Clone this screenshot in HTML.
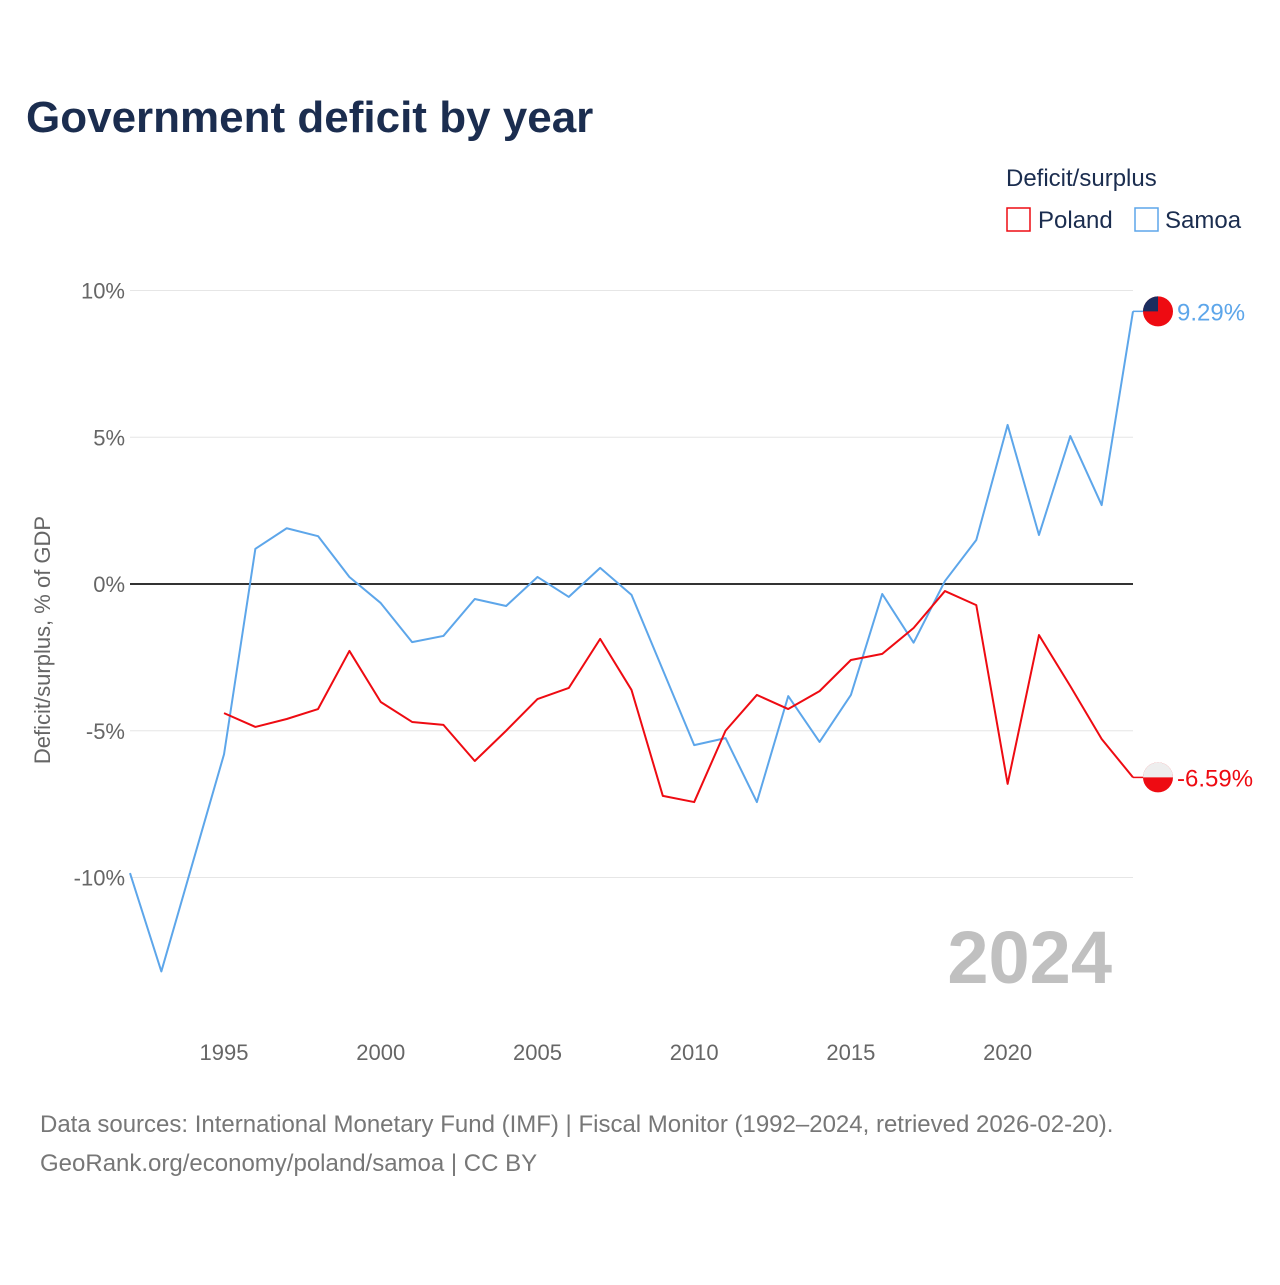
<!DOCTYPE html>
<html><head><meta charset="utf-8"><style>
body{margin:0;background:#fff;font-family:"Liberation Sans",sans-serif;}
svg text{font-family:"Liberation Sans",sans-serif;}
</style></head><body>
<svg id="chart" width="1280" height="1280" viewBox="0 0 1280 1280">
<text x="26" y="132" font-size="44" font-weight="bold" fill="#1b2d4f">Government deficit by year</text>
<text x="1006" y="186" font-size="24" fill="#1b2d4f">Deficit/surplus</text>
<g><rect x="1007" y="208" width="23" height="23" fill="none" stroke="#ee0b12" stroke-width="1.5"/><text x="1038" y="228" font-size="24" fill="#1b2d4f">Poland</text></g>
<g><rect x="1135" y="208" width="23" height="23" fill="none" stroke="#5da6ea" stroke-width="1.5"/><text x="1165" y="228" font-size="24" fill="#1b2d4f">Samoa</text></g>
<text transform="translate(50,640) rotate(-90)" text-anchor="middle" font-size="22" fill="#666">Deficit/surplus, % of GDP</text>
<g id="grid"></g><g id="yticks"></g><g id="xticks"></g>
<text x="1112" y="983" text-anchor="end" font-size="74" font-weight="bold" fill="#c0c0c0">2024</text>
<g id="series"></g>
<text x="40" y="1132" font-size="24" fill="#777">Data sources: International Monetary Fund (IMF) | Fiscal Monitor (1992–2024, retrieved 2026-02-20).</text>
<text x="40" y="1171" font-size="24" fill="#777">GeoRank.org/economy/poland/samoa | CC BY</text>
</svg>
<script>
const yearsSamoa=[1992,1993,1994,1995,1996,1997,1998,1999,2000,2001,2002,2003,2004,2005,2006,2007,2008,2009,2010,2011,2012,2013,2014,2015,2016,2017,2018,2019,2020,2021,2022,2023,2024];
const samoaValues=[-9.85,-13.2,-9.5,-5.8,1.2,1.9,1.63,0.24,-0.65,-1.98,-1.77,-0.51,-0.75,0.24,-0.44,0.55,-0.37,-2.93,-5.49,-5.25,-7.43,-3.82,-5.38,-3.78,-0.34,-2.0,0.1,1.5,5.42,1.67,5.04,2.69,9.29];
const yearsPoland=[1995,1996,1997,1998,1999,2000,2001,2002,2003,2004,2005,2006,2007,2008,2009,2010,2011,2012,2013,2014,2015,2016,2017,2018,2019,2020,2021,2022,2023,2024];
const polandValues=[-4.4,-4.87,-4.6,-4.26,-2.28,-4.02,-4.7,-4.8,-6.03,-5.0,-3.92,-3.54,-1.87,-3.61,-7.22,-7.43,-5.0,-3.78,-4.26,-3.65,-2.59,-2.38,-1.5,-0.24,-0.72,-6.81,-1.74,-3.48,-5.28,-6.59];
const yTicks=[10,5,0,-5,-10];
const yTickLabels=["10%","5%","0%","-5%","-10%"];
const xTicks=[1995,2000,2005,2010,2015,2020];
const NS="http://www.w3.org/2000/svg";
const X=y=>130+(y-1992)*(1133-130)/32;
const Y=v=>584-v*29.35;
function mk(t,a,p){const e=document.createElementNS(NS,t);for(const k in a)e.setAttribute(k,a[k]);p.appendChild(e);return e;}
const grid=document.getElementById('grid'),yt=document.getElementById('yticks'),xt=document.getElementById('xticks'),ser=document.getElementById('series');
yTicks.forEach((v,i)=>{
 const l=mk('line',{x1:130,x2:1133,y1:Y(v),y2:Y(v),stroke:v===0?'#333':'#e6e6e6','stroke-width':v===0?2:1},grid);
 
 
 const t=mk('text',{x:125,y:Y(v)+8,'text-anchor':'end','font-size':22,fill:'#666'},yt);t.textContent=yTickLabels[i];
 
 
});
xTicks.forEach(y=>{
 const t=mk('text',{x:X(y),y:1060,'text-anchor':'middle','font-size':22,fill:'#666'},xt);t.textContent=y;
 
 
});
function line(years,vals,color,name,label){
 const d=years.map((y,i)=>(i?'L':'M')+X(y)+','+Y(vals[i])).join(' ');
 const p=mk('path',{d:d,fill:'none',stroke:color,'stroke-width':2,'stroke-linejoin':'round'},ser);
 
 
 const lv=vals[vals.length-1],ly=Y(lv),lx=X(years[years.length-1]);
 mk('line',{x1:lx,x2:1146,y1:ly,y2:ly,stroke:color,'stroke-width':1.5},ser);
 const t=mk('text',{x:1177,y:ly+9,'font-size':24,fill:color},ser);t.textContent=label;
 
 
 return ly;
}
const sy=line(yearsSamoa,samoaValues,'#5da6ea','samoa-line','9.29%');
const py=line(yearsPoland,polandValues,'#ee0b12','poland-line','-6.59%');
const sf=mk('g',{},ser);


mk('circle',{cx:1158,cy:sy,r:15,fill:'#ee0b12'},sf);
mk('path',{d:`M1158,${sy} L1158,${sy-15} A15,15 0 0,0 1143,${sy} Z`,fill:'#1b2d5f'},sf);
const pf=mk('g',{},ser);


mk('circle',{cx:1158,cy:py,r:15,fill:'#ee0b12'},pf);
mk('path',{d:`M1143,${py} A15,15 0 0,1 1173,${py} Z`,fill:'#eeeeee'},pf);
</script>
</body></html>
